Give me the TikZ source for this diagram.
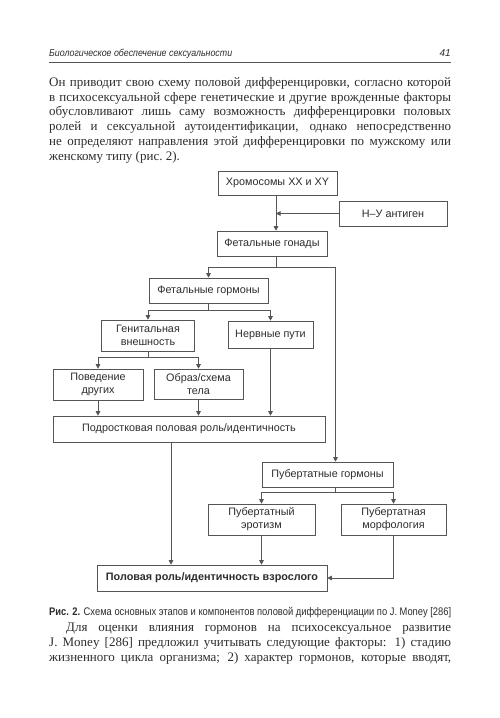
\documentclass[tikz,border=0pt]{standalone}
\usepackage{fontspec}
\setmainfont{Liberation Serif}
\setsansfont{Liberation Sans}
\usepackage{graphicx}
\usetikzlibrary{arrows.meta, positioning}
\definecolor{inkgray}{RGB}{45,45,45}
\definecolor{linegray}{RGB}{85,85,85}
\newcommand{\diagfont}{\sffamily\fontsize{10.8}{13}\selectfont}
\newcommand{\bodyfont}{\rmfamily\fontsize{13}{14.8}\selectfont}

\begin{document}
\begin{tikzpicture}[x=1pt, y=-1pt,
  box/.style={draw=linegray, line width=0.6pt, inner sep=0pt, align=center, font=\diagfont, text=inkgray},
  conn/.style={draw=linegray, line width=0.6pt},
  arr/.style={conn, -{Triangle[length=4.5pt, width=4.5pt]}}]
  \useasboundingbox[fill=white] (0,0) rectangle (500,718);

  % page header
  \node[anchor=base west, inner sep=0pt, text=inkgray, font=\sffamily\itshape\fontsize{10}{12}\selectfont] (head) at (49,56) {\resizebox{183pt}{\height}{Биологическое обеспечение сексуальности}};
  \node[anchor=base east, inner sep=0pt, text=inkgray, font=\sffamily\itshape\fontsize{10}{12}\selectfont] (pagenum) at (451,56) {41};
  \draw[conn] (49,62) -- (451,62);

  % text above
  \node[anchor=north west, inner sep=0pt, text width=402pt, align=justify, text=inkgray, font=\bodyfont] (para1) at (49,77) {%
    Он приводит свою схему половой дифференцировки, согласно которой\linebreak
    в психосексуальной сфере генетические и другие врожденные факторы\linebreak
    обусловливают лишь саму возможность дифференцировки половых\linebreak
    ролей и сексуальной аутоидентификации, однако непосредственно\linebreak
    не определяют направления этой дифференцировки по мужскому или\linebreak
    женскому типу (рис.~2).};

  % boxes
  \node[box, minimum width=119pt, minimum height=24pt] (chrom) at (277.5,183) {Хромосомы XX и XY};
  \node[box, minimum width=108pt, minimum height=25pt] (hy) at (393,213.5) {Н–У антиген};
  \node[box, minimum width=110pt, minimum height=25pt] (gon) at (272,243.5) {Фетальные гонады};
  \node[box, minimum width=119pt, minimum height=25pt] (fhorm) at (208.5,290.5) {Фетальные гормоны};
  \node[box, minimum width=93pt, minimum height=31pt] (genit) at (148,335.5) {Генитальная\\внешность};
  \node[box, minimum width=85pt, minimum height=27pt] (nerve) at (270.5,334.5) {Нервные пути};
  \node[box, minimum width=90pt, minimum height=31pt] (others) at (98,384.5) {Поведение\\других};
  \node[box, minimum width=89pt, minimum height=30pt] (image) at (198.5,384) {Образ/схема\\тела};
  \node[box, minimum width=272pt, minimum height=26pt] (teen) at (189,429) {Подростковая половая роль/идентичность};
  \node[box, minimum width=131pt, minimum height=25pt] (phorm) at (327.5,474.5) {Пубертатные гормоны};
  \node[box, minimum width=107pt, minimum height=31pt] (erot) at (261.5,519.5) {Пубертатный\\эротизм};
  \node[box, minimum width=105pt, minimum height=31pt] (morph) at (393.5,519.5) {Пубертатная\\морфология};
  \node[box, minimum width=230pt, minimum height=26pt, font=\diagfont\bfseries] (adult) at (212,578) {Половая роль/идентичность взрослого};

  % junctions
  \coordinate (spine) at (276,0);
  \coordinate (rx) at (335.5,0);
  \coordinate (lx) at (171,0);
  \coordinate (jg) at (276,267);
  \coordinate (jf) at (208.5,310);
  \coordinate (je) at (148,357);
  \coordinate (jp) at (335.5,492);

  % connectors
  \draw[arr] (chrom.south -| spine) -- (gon.north -| spine);
  \draw[arr] (hy.west) -- (hy.west -| spine);
  \draw[conn] (gon.south -| spine) -- (jg);
  \draw[arr] (jg) -| (fhorm.north);
  \draw[arr] (jg) -| (phorm.north -| rx);
  \draw[conn] (fhorm.south) -- (jf);
  \draw[arr] (jf) -| (genit.north);
  \draw[arr] (jf) -| (nerve.north);
  \draw[conn] (genit.south) -- (je);
  \draw[arr] (je) -| (others.north);
  \draw[arr] (je) -| (image.north);
  \draw[arr] (others.south) -- (others.south |- teen.north);
  \draw[arr] (image.south) -- (image.south |- teen.north);
  \draw[arr] (nerve.south) -- (nerve.south |- teen.north);
  \draw[arr] (teen.south -| lx) -- (adult.north -| lx);
  \draw[conn] (phorm.south -| rx) -- (jp);
  \draw[arr] (jp) -| (erot.north);
  \draw[arr] (jp) -| (morph.north);
  \draw[arr] (erot.south) -- (erot.south |- adult.north);
  \draw[arr] (morph.south) |- (adult.east);

  % caption
  \node[anchor=base west, inner sep=0pt, text=inkgray, font=\sffamily\fontsize{11}{13}\selectfont] (caption) at (49,615) {\resizebox{402pt}{\height}{\textbf{Рис. 2.} Схема основных этапов и компонентов половой дифференциации по J. Money [286]}};

  % text below
  \node[anchor=north west, inner sep=0pt, text width=402pt, align=justify, text=inkgray, font=\bodyfont] (para2) at (49,623) {%
    \hspace*{17pt}Для оценки влияния гормонов на психосексуальное развитие\linebreak
    J. Money [286] предложил учитывать следующие факторы: 1)~стадию\linebreak
    жизненного цикла организма; 2)~характер гормонов, которые вводят,\parfillskip=0pt\par};
\end{tikzpicture}
\end{document}
